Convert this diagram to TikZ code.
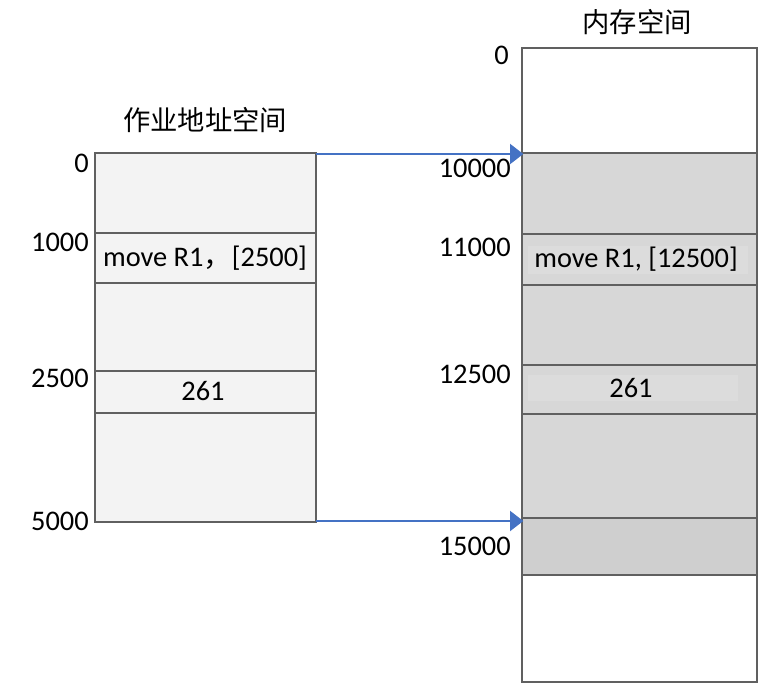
\documentclass[tikz,border=0pt]{standalone}
\usepackage{fontspec}
\setmainfont{Carlito}
\newfontfamily\cjk{Noto Sans CJK SC}
\usetikzlibrary{arrows.meta}
\definecolor{jobfill}{HTML}{F3F3F3}
\definecolor{memfill}{HTML}{D7D7D7}
\definecolor{memlast}{HTML}{CFCFCF}
\definecolor{memtext}{HTML}{DCDCDC}
\definecolor{lineclr}{HTML}{606060}
\definecolor{arrclr}{HTML}{4472C4}
\tikzset{
  boxline/.style={draw=lineclr, line width=1pt},
  addr/.style={anchor=east},
  maparrow/.style={draw=arrclr, line width=1.6pt, -{Triangle[length=10pt,width=15pt]}, shorten >=-1pt}
}

\begin{document}
\begin{tikzpicture}[x=0.75pt,y=-0.75pt, font=\fontsize{21.3}{25}\selectfont, inner sep=0pt]
		\useasboundingbox (0,0) rectangle (768,689);
		% job address space
		\draw[boxline, fill=jobfill](95,153) rectangle (316,522);
		\draw[boxline](95,233)--(316,233);
		\draw[boxline](95,283)--(316,283);
		\draw[boxline](95,371)--(316,371);
		\draw[boxline](95,413)--(316,413);
		\node (jobtitle) at (205,120) {\fontsize{20.5}{24}\selectfont\cjk 作业地址空间};
		\node (jobmove) at (205,258) {move R1{\cjk ，}[2500]};
		\node (jobdata) at (203,391) {261};
		\node[addr] (job0) at (89,163) {0};
		\node[addr] (job1000) at (89,242) {1000};
		\node[addr] (job2500) at (89,378) {2500};
		\node[addr] (job5000) at (89,521) {5000};
		% memory space
		\draw[boxline, fill=white](522,48) rectangle (757,682);
		\draw[boxline, fill=memfill](522,153) rectangle (757,518);
		\draw[boxline, fill=memlast](522,518) rectangle (757,575);
		\fill[memtext](528,246) rectangle (748,274);
		\fill[memtext](528,375) rectangle (738,401);
		\draw[boxline](522,234)--(757,234);
		\draw[boxline](522,285)--(757,285);
		\draw[boxline](522,365)--(757,365);
		\draw[boxline](522,414)--(757,414);
		\node (memtitle) at (637,22) {\fontsize{20.5}{24}\selectfont\cjk 内存空间};
		\node (memmove) at (636,259) {move R1, [12500]};
		\node (memdata) at (631,388) {261};
		\node[addr] (mem0) at (509,55) {0};
		\node[addr] (mem10000) at (511,168) {10000};
		\node[addr] (mem11000) at (511,247) {11000};
		\node[addr] (mem12500) at (511,374) {12500};
		\node[addr] (mem15000) at (511,546) {15000};
		% mapping
		\coordinate (jobtop) at (316,154);
		\coordinate (memtop) at (522,154);
		\coordinate (jobend) at (316,521);
		\coordinate (memend) at (522,521);
		\draw[maparrow](jobtop)--(memtop);
		\draw[maparrow](jobend)--(memend);
	\end{tikzpicture}
\end{document}
